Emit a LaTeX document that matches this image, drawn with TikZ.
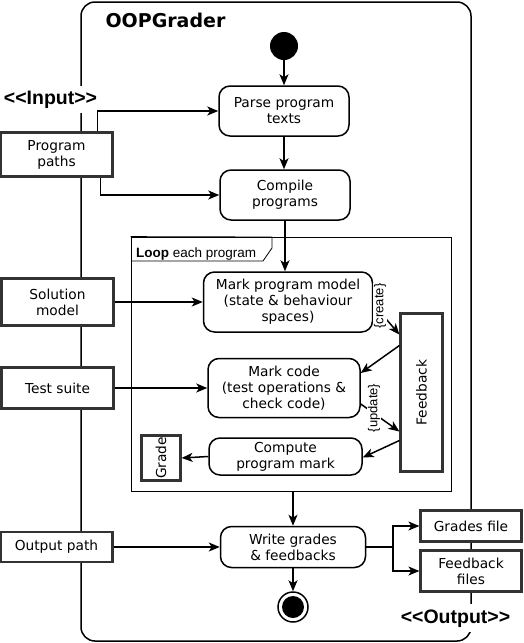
\documentclass[tikz,border=0pt]{standalone}
\usepackage{fontspec}
\setmainfont{DejaVu Sans}
\newfontfamily\arialfont{Liberation Sans}
\usetikzlibrary{arrows.meta, positioning}

\begin{document}
\begin{tikzpicture}[x=1pt, y=-1pt, font=\fontsize{13.75}{16}\selectfont]
    % settings for this picture
    \tikzset{
      action/.style={draw, line width=1.5pt, rounded corners=11pt, fill=white, align=center, inner sep=1pt},
      object/.style={draw=black!80, line width=2.2pt, fill=white, align=center, inner sep=1pt},
      flow/.style={-{Stealth[length=11pt, width=9pt, inset=3pt]}, line width=1.5pt},
      stereo/.style={fill=white, inner xsep=1pt, inner ysep=5pt, font=\arialfont\bfseries\fontsize{19.5}{20}\selectfont},
      tag/.style={rotate=90, fill=white, inner sep=0.5pt, font=\arialfont\fontsize{13}{14}\selectfont},
    }
    \useasboundingbox (0,0) rectangle (523,643);

    % system frame
    \draw[line width=1.5pt, rounded corners=14pt] (81,2) rectangle (471,641);
    \node[anchor=base west, font=\bfseries\fontsize{19}{20}\selectfont] (title) at (102,27) {OOPGrader};

    % loop frame
    \node[draw, line width=0.8pt, minimum width=320pt, minimum height=254pt, inner sep=0pt] (loop) at (291,364) {};
    \draw[line width=0.8pt] (loop.north west) -- (272,237) -- (272,248) -- (263,261) -- (131,261);
    \node[anchor=base west, inner sep=0pt, font=\arialfont\fontsize{13.5}{14}\selectfont] (looptext) at (136,257) {\textbf{Loop} each program};

    % actions
    \node[circle, fill=black, minimum size=28pt, inner sep=0pt] (start) at (284,46) {};
    \node[action, minimum width=130pt, minimum height=50pt] (parse) at (284,111) {Parse program\\texts};
    \node[action, minimum width=130pt, minimum height=50pt] (compile) at (285,195) {Compile\\programs};
    \node[action, minimum width=169pt, minimum height=60pt] (markmodel) at (288,302) {Mark program model\\(state \& behaviour\\spaces)};
    \node[action, minimum width=152pt, minimum height=59pt] (markcode) at (284,388) {Mark code\\(test operations \&\\check code)};
    \node[action, minimum width=153pt, minimum height=37pt] (compute) at (285.5,456.5) {Compute\\program mark};
    \node[action, minimum width=145pt, minimum height=41pt] (write) at (293,547) {Write grades\\\& feedbacks};
    \node[circle, draw, line width=1.5pt, minimum size=30pt, inner sep=0pt,
          path picture={\fill (path picture bounding box.center) circle (11pt);}] (end) at (293,607) {};

    % objects
    \node[object, minimum width=112pt, minimum height=44pt] (progpaths) at (56.5,154.5) {Program\\paths};
    \node[object, minimum width=112pt, minimum height=47pt] (solution) at (57.5,302) {Solution\\model};
    \node[object, minimum width=112pt, minimum height=41pt] (testsuite) at (57.5,388) {Test suite};
    \node[object, minimum width=112pt, minimum height=30pt] (outpath) at (56.5,547) {Output path};
    \node[object, minimum width=42pt, minimum height=158pt] (feedback) at (421.5,392.5) {};
    \node[rotate=90, inner sep=0pt] (feedbacktext) at (feedback) {Feedback};
    \node[object, minimum width=39pt, minimum height=45pt] (grade) at (161,458) {};
    \node[rotate=90, inner sep=0pt] (gradetext) at (grade) {Grade};
    \node[object, minimum width=101pt, minimum height=31pt] (gradesfile) at (471,526) {Grades file};
    \node[object, minimum width=101pt, minimum height=41pt] (feedbackfiles) at (471,571) {Feedback\\files};

    % stereotypes
    \node[stereo, anchor=base] (inlabel) at (50.5,104) {<\kern0pt<Input>\kern0pt>};
    \node[stereo, anchor=base] (outlabel) at (455.5,623) {<\kern0pt<Output>\kern0pt>};

    % control flow
    \draw[flow] (start) -- (parse);
    \draw[flow] (parse.south) -- (parse.south |- compile.north);
    \draw[flow] (compile.south) -- (compile.south |- markmodel.north);
    \draw[flow] (loop.south -| write.north) -- (write.north);
    \draw[flow] (write) -- (end);

    % object flow
    \draw[flow] ([xshift=41pt]progpaths.north) |- (parse.west);
    \draw[flow] ([xshift=44pt]progpaths.south) |- (compile.west);
    \draw[flow] (solution.east) -- (solution.east -| markmodel.west);
    \draw[flow] (testsuite.east) -- (testsuite.east -| markcode.west);
    \draw[flow] (outpath.east) -- (outpath.east -| write.west);
    \draw[flow] (compute.west) -- (grade.east);
    \draw[flow] ([yshift=-2pt]markmodel.east) -- ([yshift=58pt]feedback.west);
    \draw[flow] ([yshift=47pt]feedback.west) -- ([yshift=15pt]markcode.east);
    \draw[flow] ([yshift=-16pt]markcode.east) -- ([yshift=-39pt]feedback.west);
    \draw[flow] ([yshift=-48pt]feedback.west) -- ([yshift=-1pt]compute.east);
    \coordinate (split) at (393,547);
    \draw[flow] (write.east) -- (split) |- (gradesfile.west);
    \draw[flow] (split) |- (feedbackfiles.west);

    % flow tags
    \node[tag] (createtag) at (380,306) {\{create\}};
    \node[tag] (updatetag) at (374,408) {\{update\}};

\end{tikzpicture}
\end{document}
